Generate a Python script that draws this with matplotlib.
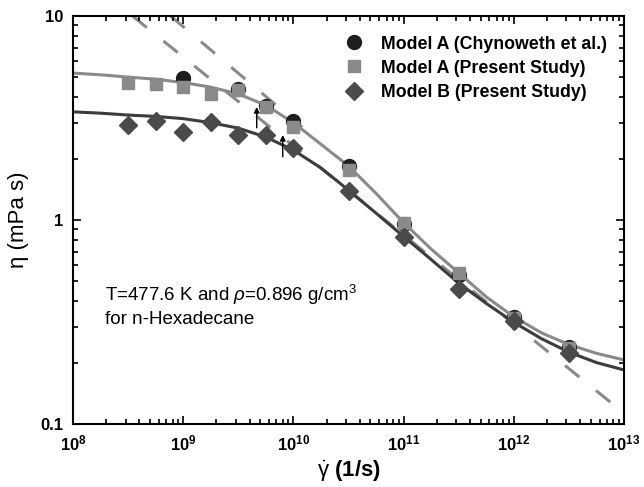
import numpy as np
import matplotlib
matplotlib.use('Agg')
import matplotlib.pyplot as plt
from matplotlib.ticker import FixedLocator, FixedFormatter, LogLocator, NullFormatter

plt.rcParams['font.family'] = ['Liberation Sans', 'DejaVu Sans']
plt.rcParams['mathtext.fontset'] = 'custom'
plt.rcParams['mathtext.rm'] = 'Liberation Sans'
plt.rcParams['mathtext.it'] = 'Liberation Sans:italic'
plt.rcParams['mathtext.bf'] = 'Liberation Sans:bold'

# simulation points (shear rate in 1/s, viscosity in mPa s)
chyn_rate = [1e9, 10**9.5, 10**9.75, 1e10, 10**10.5, 1e11, 10**11.5, 1e12, 10**12.5]
chyn_eta = [4.96, 4.37, 3.62, 3.07, 1.85, 0.96, 0.54, 0.336, 0.239]

a_rate = [10**8.5, 10**8.75, 1e9, 10**9.25, 10**9.5, 10**9.75, 1e10, 10**10.5,
          1e11, 10**11.5, 1e12, 10**12.5]
a_eta = [4.68, 4.64, 4.47, 4.15, 4.35, 3.57, 2.87, 1.75, 0.97, 0.55, 0.33, 0.235]

b_rate = [10**8.5, 10**8.75, 1e9, 10**9.25, 10**9.5, 10**9.75, 1e10, 10**10.5,
          1e11, 10**11.5, 1e12, 10**12.5]
b_eta = [2.92, 3.07, 2.69, 3.03, 2.61, 2.61, 2.26, 1.38, 0.83, 0.46, 0.318, 0.222]

# fitted curves
fit_logx = [8.0, 8.25, 8.5, 8.75, 9.0, 9.25, 9.5, 9.75, 10.0, 10.25, 10.5,
            10.75, 11.0, 11.25, 11.5, 11.75, 12.0, 12.25, 12.5, 12.75, 13.0]
fit_a = [5.25, 5.15, 5.02, 4.90, 4.72, 4.48, 4.15, 3.65, 3.0, 2.35, 1.84,
         1.35, 0.97, 0.72, 0.55, 0.42, 0.335, 0.28, 0.245, 0.222, 0.206]
fit_b = [3.39, 3.34, 3.27, 3.22, 3.14, 3.0, 2.82, 2.55, 2.2, 1.80, 1.40,
         1.08, 0.83, 0.64, 0.49, 0.39, 0.315, 0.262, 0.225, 0.200, 0.184]

# power-law asymptotes (end points)
plaw_a_rate = [10**8.885, 10**10.08]
plaw_a_eta = [10.0, 2.85]
plaw_b_rate = [10**8.54, 1e13]
plaw_b_eta = [10.0, 0.113]

# arrows marking onset of shear thinning
arrow_rate = [10**9.667, 10**9.903]
arrow_lo = [2.83, 2.04]
arrow_hi = [3.58, 2.61]

c_light = '#8a8a8a'
c_dark = '#3c3c3c'

fig = plt.figure(figsize=(6.44, 4.87), dpi=100)
ax = fig.add_axes([0.1134, 0.1294, 0.8556, 0.8377])

fit_x = [10**v for v in fit_logx]
ax.plot(plaw_b_rate, plaw_b_eta, color=c_light, lw=2.2, ls=(0, (6, 7)), zorder=1)
ax.plot(plaw_a_rate, plaw_a_eta, color=c_light, lw=2.2, ls=(0, (6, 7)), zorder=1)
ax.plot(fit_x, fit_a, color=c_light, lw=2.2, zorder=2)
ax.plot(fit_x, fit_b, color=c_dark, lw=2.2, zorder=2)

h1, = ax.plot(chyn_rate, chyn_eta, 'o', color='#1e1e1e', ms=10, mec='#1e1e1e', zorder=3,
              label='Model A (Chynoweth et al.)')
h2, = ax.plot(a_rate, a_eta, 's', color=c_light, ms=9, mec=c_light, zorder=4,
              label='Model A (Present Study)')
h3, = ax.plot(b_rate, b_eta, 'D', color='#4a4a4a', ms=9, mec='#4a4a4a', zorder=4,
              label='Model B (Present Study)')

for xr, lo, hi in zip(arrow_rate, arrow_lo, arrow_hi):
    ax.annotate('', xy=(xr, hi), xytext=(xr, lo),
                arrowprops=dict(arrowstyle='-|>', color='black', lw=1.0,
                                mutation_scale=8, shrinkA=0, shrinkB=0), zorder=5)

ax.set_xscale('log')
ax.set_yscale('log')
ax.set_xlim(1e8, 1e13)
ax.set_ylim(0.1, 10)

xt = [1e8, 1e9, 1e10, 1e11, 1e12, 1e13]
ax.xaxis.set_major_locator(FixedLocator(xt))
ax.xaxis.set_major_formatter(FixedFormatter([r'$\mathbf{10^{%d}}$' % k for k in range(8, 14)]))
ax.xaxis.set_minor_locator(LogLocator(base=10, subs=np.arange(2, 10), numticks=20))
ax.xaxis.set_minor_formatter(NullFormatter())
ax.yaxis.set_major_locator(FixedLocator([0.1, 1, 10]))
ax.yaxis.set_major_formatter(FixedFormatter(['0.1', '1', '10']))
ax.yaxis.set_minor_locator(LogLocator(base=10, subs=np.arange(2, 10), numticks=20))
ax.yaxis.set_minor_formatter(NullFormatter())

ax.tick_params(which='both', direction='in', top=True, right=True, width=1.2)
ax.tick_params(which='major', length=6, labelsize=12, pad=7)
ax.tick_params(which='minor', length=3.5)
for lab in ax.get_yticklabels():
    lab.set_fontweight('bold')
for sp in ax.spines.values():
    sp.set_linewidth(1.5)

ax.set_xlabel(r'$\dot{\mathrm{\gamma}}$ (1/s)', fontsize=16, fontweight='bold', labelpad=4)
ax.set_ylabel('\u03b7 (mPa s)', fontsize=16, labelpad=8)

ax.text(0.058, 0.345, r'T=477.6 K and $\rho$=0.896 g/cm$^3$' + '\nfor n-Hexadecane',
        transform=ax.transAxes, fontsize=13.5, va='top', ha='left', linespacing=1.25)

ax.legend(handles=[h1, h2, h3], loc='upper left', bbox_to_anchor=(0.491, 0.952),
          frameon=False, prop={'weight': 'bold', 'size': 12.8}, handletextpad=0.9,
          labelspacing=0.4, handlelength=1.2, borderaxespad=0, borderpad=0)

fig.savefig('out.png', dpi=100)
